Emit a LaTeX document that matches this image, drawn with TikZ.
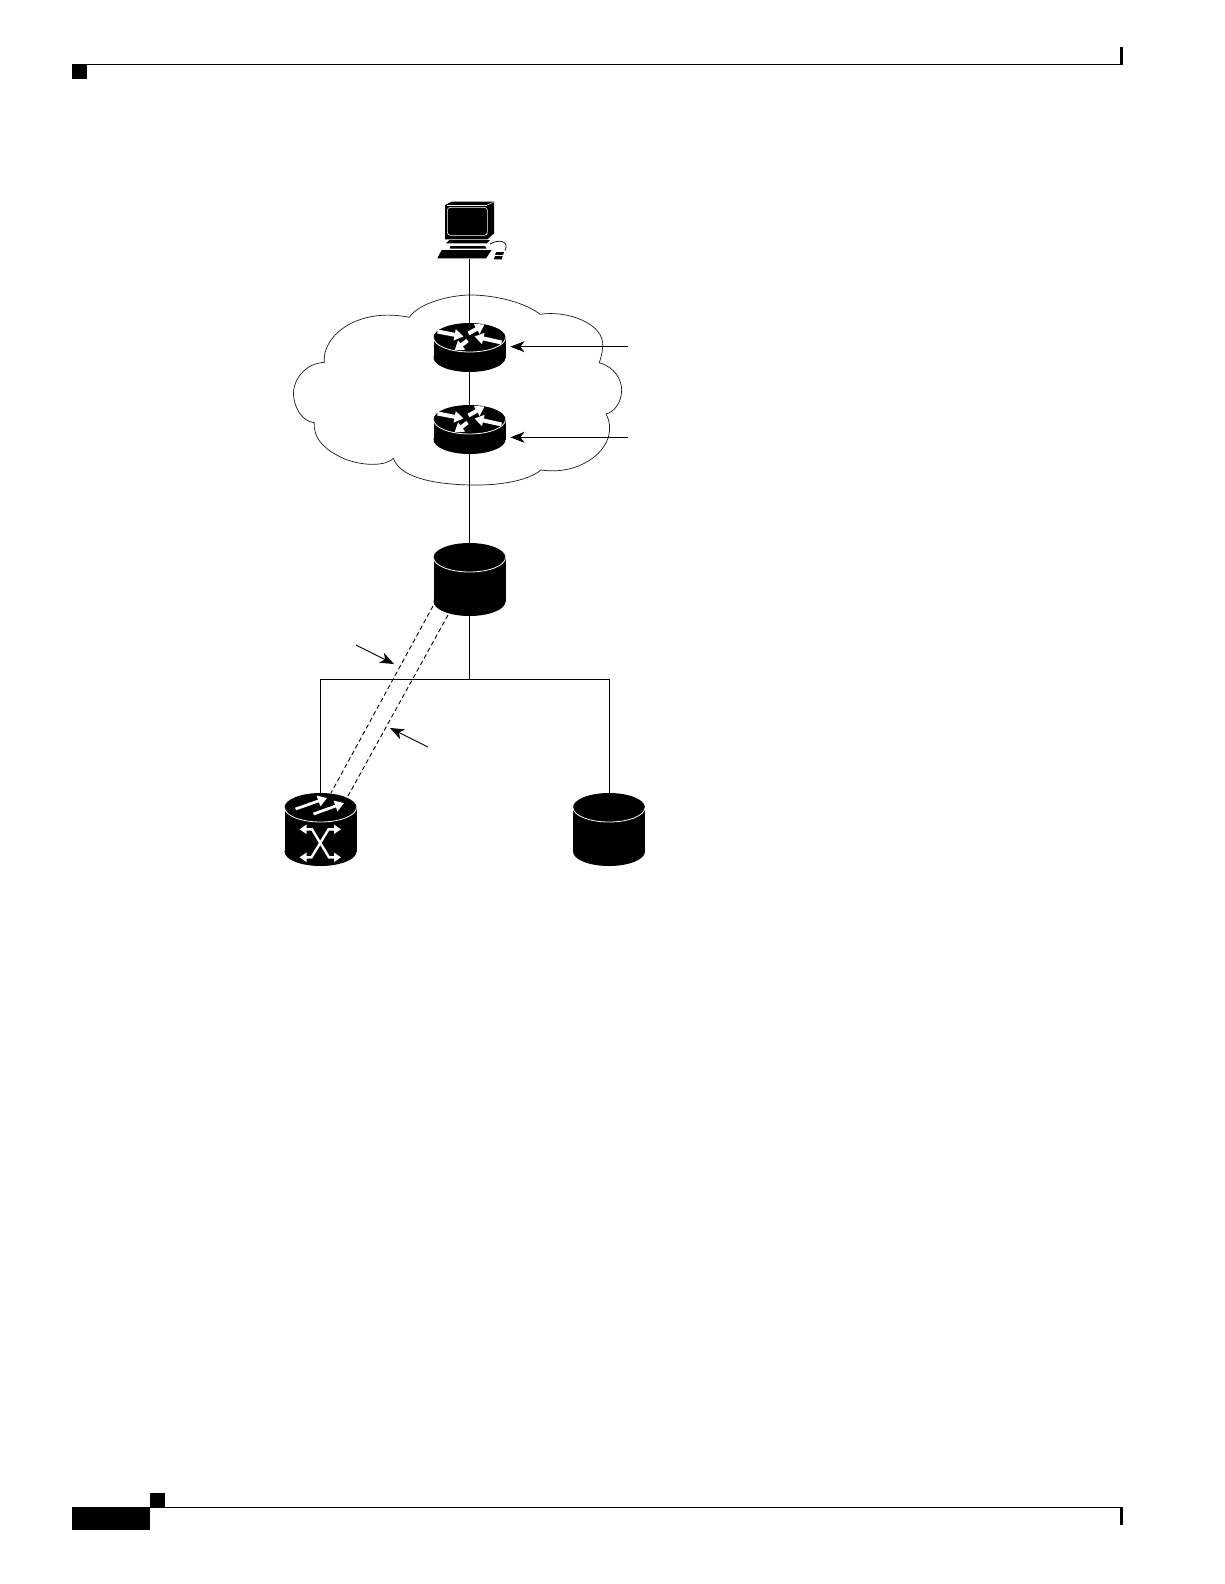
\documentclass[tikz,border=0pt]{standalone}
\usetikzlibrary{arrows.meta}
\tikzset{
  iconbox/.style={draw=none,fill=none,inner sep=0pt,minimum width=72pt},
  link/.style={line width=0.9pt,black},
  dashlink/.style={line width=0.9pt,black,dash pattern=on 4.5pt off 3pt},
  callout/.style={line width=0.9pt,black,-{Stealth[length=14pt,width=11pt,inset=4pt]}},
  cloudline/.style={line width=0.7pt,black!90},
  wa/.style={white,line width=4pt,-{Triangle[length=9pt,width=11pt]}},
  wb/.style={white,line width=2.4pt,{Triangle[length=7pt,width=9pt]}-{Triangle[length=7pt,width=9pt]}},
  pics/cyl/.style={code={
    \fill[black] (0,0) ellipse[x radius=36,y radius=14.5];
    \fill[black] (-36,0) rectangle (36,#1);
    \fill[black] (0,#1) ellipse[x radius=36,y radius=14.5];
    \draw[white,line width=0.8pt] (-36,0) arc[start angle=180,end angle=0,x radius=36,y radius=14.5];
  }},
  pics/routerarrows/.style={code={
    \draw[wa] (-32,-6) -- (-6,-1);
    \draw[wa] (-1,-4) -- (15,-13);
    \draw[wa] (32,5) -- (5,-1);
    \draw[wa] (-2,3) -- (-15,13);
  }}
}
\begin{document}
\begin{tikzpicture}[x=1pt,y=-1pt]
\useasboundingbox (0,0) rectangle (1224,1584);
% page furniture
\fill[black] (72,64) rectangle (87,79);
\draw[line width=1pt] (87,64.5) -- (1123,64.5);
\fill[black] (1120.3,47) rectangle (1123,65);
\fill[black] (72,1507) rectangle (150,1530);
\fill[black] (150,1493) rectangle (165,1507);
\draw[line width=1pt] (150,1507.5) -- (1123,1507.5);
\fill[black] (1120,1507) rectangle (1123.3,1525);
% cloud
\begin{scope}[shift={(280,280)},scale=1/3]
\draw[cloudline] (388,112) .. controls (420,65) and (520,45) .. (570,45)
 .. controls (650,45) and (740,70) .. (780,103)
 .. controls (860,90) and (975,130) .. (968,200)
 .. controls (967,220) and (962,235) .. (958,248)
 .. controls (1005,262) and (1025,300) .. (1025,330)
 .. controls (1025,365) and (1005,395) .. (978,402)
 .. controls (1025,490) and (915,590) .. (783,570)
 .. controls (740,605) and (650,617) .. (570,615)
 .. controls (450,612) and (360,590) .. (340,535)
 .. controls (310,565) and (220,555) .. (170,525)
 .. controls (125,500) and (100,470) .. (103,428)
 .. controls (65,425) and (40,380) .. (40,335)
 .. controls (45,290) and (80,250) .. (133,247)
 .. controls (125,170) and (230,80) .. (388,112) -- cycle;
\end{scope}
% anchor nodes
\node[iconbox,minimum height=1pt] (pc) at (469.5,258) {};
\node[iconbox,minimum height=49pt] (r1) at (469.5,347.5) {};
\node[iconbox,minimum height=49pt] (r2) at (469.5,429.5) {};
\node[iconbox,minimum height=73pt] (hub) at (469.5,579.5) {};
\node[iconbox,minimum height=73pt] (sw) at (320.5,829.5) {};
\node[iconbox,minimum height=73pt] (db) at (609,829.5) {};
\coordinate (bus) at (469.5,679);
\coordinate (busl) at (320.5,679);
\coordinate (busr) at (609,679);
\coordinate (d1a) at (433,606);
\coordinate (d1b) at (331,793);
\coordinate (d2a) at (448,615);
\coordinate (d2b) at (348,796);
\coordinate (c1) at (628,346.7);
\coordinate (c1e) at (510.5,346.7);
\coordinate (c2) at (628,437.3);
\coordinate (c2e) at (510.5,437.3);
\coordinate (c3) at (356,645);
\coordinate (c3e) at (394,664);
\coordinate (c4) at (428,747);
\coordinate (c4e) at (390,728);
% icons
\pic at (469.5,337.5) {cyl=20};
\pic at (469.5,337.5) {routerarrows};
\pic at (469.5,419.5) {cyl=20};
\pic at (469.5,419.5) {routerarrows};
\pic at (469.5,557.5) {cyl=44};
\pic at (320.5,807.5) {cyl=44};
\pic at (609,807.5) {cyl=44};
% switch glyphs
\draw[wa,line width=2.8pt] (295.5,809) -- (327,798);
\draw[wa,line width=2.8pt] (313.5,814) -- (344,803);
\draw[wb] (299.5,829.3) -- (312,829.3) -- (329,857.3) -- (341,857.3);
\draw[wb] (341,829.3) -- (328.5,829.3) -- (311.5,857.3) -- (299.5,857.3);
% computer
\begin{scope}[shift={(410,190)},scale=1/3]
\fill[black] (105,45) -- (125,35) -- (252,35) -- (252,130) -- (232,148) -- (105,148) -- cycle;
\draw[white,line width=0.6pt,rounded corners=3pt] (112,52) rectangle (232,136);
\draw[white,line width=0.5pt] (232,45) -- (250,37);
\draw[white,line width=0.5pt] (232,45) -- (112,45);
\fill[black] (118,150) -- (240,150) -- (230,160) -- (108,160) -- cycle;
\fill[black] (120,168) -- (225,168) -- (230,176) -- (120,176) -- cycle;
\fill[black] (95,180) -- (245,180) -- (228,205) -- (82,205) -- cycle;
\fill[black] (258,186) -- (282,186) -- (275,208) -- (252,208) -- cycle;
\draw[white,line width=0.5pt] (255,197) -- (280,197);
\draw[black,line width=0.7pt] (240,162) .. controls (262,148) and (300,150) .. (285,182);
\end{scope}
% connectors
\draw[link] (pc.south) -- (r1.north);
\draw[link] (r1.south) -- (r2.north);
\draw[link] (r2.south) -- (hub.north);
\draw[link] (hub.south) -- (bus);
\draw[link] (sw.north) -- (busl) -- (busr) -- (db.north);
\draw[dashlink] (d1a) -- (d1b);
\draw[dashlink] (d2a) -- (d2b);
\draw[callout] (c1) -- (c1e);
\draw[callout] (c2) -- (c2e);
\draw[callout] (c3) -- (c3e);
\draw[callout] (c4) -- (c4e);
\end{tikzpicture}
\end{document}
